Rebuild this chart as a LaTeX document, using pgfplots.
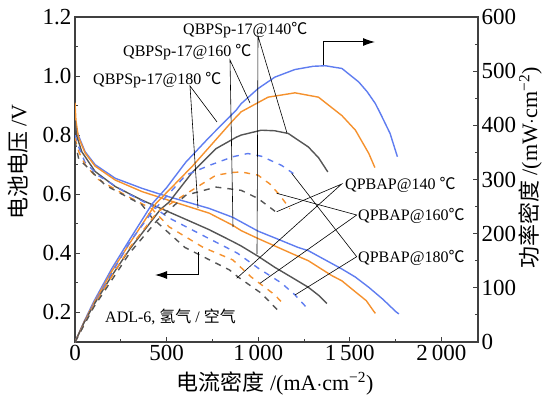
\documentclass[border=0pt]{standalone}
\usepackage{fontspec}
\setmainfont{Liberation Serif}
\newfontfamily\cjkfont{Noto Sans CJK SC}
\newfontfamily\tickfont{Liberation Serif}
\newcommand{\zh}[1]{{\cjkfont #1}}
\usepackage{pgfplots}
\pgfplotsset{compat=1.18}
\usetikzlibrary{arrows.meta}
\definecolor{cblue}{RGB}{95,125,240}
\definecolor{corange}{RGB}{245,145,45}
\definecolor{cgray}{RGB}{85,85,85}
\newcommand{\dc}{\zh{℃}}
\begin{document}
\begin{tikzpicture}[x=1pt,y=1pt]
\path[use as bounding box] (-75,-54) rectangle (473,342);
\pgfplotsset{
  every axis/.append style={
    scale only axis, width=403pt, height=325pt, at={(0,0)}, anchor=south west,
    xmin=0, xmax=2200,
    tick align=inside,
    major tick length=5pt, minor tick length=3pt,
    axis line style={line width=1.1pt, black!75},
    every tick/.style={black!75, line width=0.9pt},
    tick label style={font=\tickfont\fontsize{23}{25}\selectfont},
    /pgf/number format/assume math mode=true,
  },
  sol/.style={line width=1.4pt, no marks},
  das/.style={line width=1.4pt, no marks, dash pattern=on 6pt off 6pt},
}
\begin{axis}[
  ymin=0.1, ymax=1.2,
  xtick={0,500,1000,1500,2000},
  xticklabels={\tickfont 0,\tickfont 500,\tickfont 1\,000,\tickfont 1\,500,\tickfont 2\,000},
  minor xtick={250,750,1250,1750},
  ytick={0.2,0.4,0.6,0.8,1.0,1.2},
  yticklabels={\tickfont 0.2,\tickfont 0.4,\tickfont 0.6,\tickfont 0.8,\tickfont 1.0,\tickfont 1.2},
  minor ytick={0.1,0.3,0.5,0.7,0.9,1.1},
  xtick pos=bottom, ytick pos=left,
]
% QBPSp-17@180 (blue solid) voltage
\addplot[sol, cblue] coordinates {(0,0.86)(8,0.82)(18,0.80)(55,0.744)(110,0.70)(220,0.654)(366,0.62)(476,0.598)(605,0.575)(733,0.552)(861,0.522)(1000,0.475)(1100,0.45)(1218,0.42)(1274,0.409)(1401,0.366)(1457,0.347)(1530,0.32)(1604,0.285)(1680,0.245)(1751,0.203)(1768,0.195)};
% QBPSp-17@160 (orange solid)
\addplot[sol, corange] coordinates {(0,0.91)(5,0.85)(18,0.795)(55,0.74)(110,0.695)(220,0.648)(366,0.609)(550,0.572)(733,0.536)(861,0.495)(907,0.477)(1000,0.45)(1218,0.39)(1274,0.375)(1401,0.325)(1457,0.307)(1530,0.27)(1590,0.24)(1632,0.203)(1640,0.197)};
% QBPSp-17@140 (gray solid)
\addplot[sol, cgray] coordinates {(0,0.85)(8,0.80)(37,0.744)(110,0.677)(220,0.626)(366,0.58)(476,0.55)(605,0.515)(733,0.48)(861,0.44)(907,0.425)(1000,0.39)(1090,0.353)(1180,0.32)(1274,0.285)(1330,0.258)(1375,0.23)};
% QPBAP@180 (blue dashed)
\addplot[das, cblue] coordinates {(0,0.80)(20,0.76)(55,0.708)(128,0.663)(275,0.607)(421,0.56)(513,0.52)(700,0.46)(861,0.409)(888,0.40)(1000,0.35)(1126,0.30)(1200,0.26)(1274,0.21)};
% QPBAP@160 (orange dashed)
\addplot[das, corange] coordinates {(0,0.79)(20,0.745)(55,0.70)(128,0.65)(275,0.597)(421,0.55)(513,0.49)(700,0.42)(861,0.378)(962,0.32)(1090,0.26)(1146,0.223)};
% QPBAP@140 (gray dashed)
\addplot[das, cgray] coordinates {(0,0.78)(20,0.72)(73,0.688)(165,0.631)(366,0.564)(421,0.52)(600,0.42)(843,0.344)(888,0.321)(1017,0.265)(1109,0.206)};
\end{axis}
\begin{axis}[
  ymin=0, ymax=600,
  axis y line*=right, axis x line=none,
  ytick={0,100,200,300,400,500,600},
  yticklabels={\tickfont 0,\tickfont 100,\tickfont 200,\tickfont 300,\tickfont 400,\tickfont 500,\tickfont 600},
  minor ytick={50,150,...,550},
]
\addplot[sol, cblue] coordinates {(0,0)(50,38)(100,73)(200,135)(300,190)(421,255)(500,285)(605,332)(733,378)(880,428)(907,440)(1000,468)(1091,489)(1200,503)(1300,509)(1366,510)(1457,505)(1549,480)(1595,462)(1640,440)(1677,415)(1720,385)(1760,342)};
\addplot[sol, corange] coordinates {(0,0)(50,37)(100,70)(200,130)(300,183)(440,255)(642,325)(862,409)(907,425)(1054,452)(1201,460)(1329,452)(1457,418)(1531,391)(1604,348)(1637,322)};
\addplot[sol, cgray] coordinates {(0,0)(50,36)(100,67)(200,122)(300,172)(467,245)(513,258)(642,314)(770,357)(880,378)(907,382)(1017,391)(1090,390)(1164,385)(1274,360)(1330,340)(1380,314)};
\addplot[das, cblue] coordinates {(0,0)(100,68)(300,185)(421,240)(605,308)(733,326)(862,342)(943,348)(1017,343)(1128,326)(1192,311)};
\addplot[das, corange] coordinates {(0,0)(100,66)(300,175)(450,240)(623,277)(770,308)(862,313)(907,314)(999,308)(1063,292)(1118,271)(1173,246)};
\addplot[das, cgray] coordinates {(0,0)(100,63)(300,165)(450,225)(605,271)(770,286)(907,280)(999,265)(1109,237)};
\end{axis}
% labels
\node[rotate=90, font=\fontsize{22}{24}\selectfont] at (-57,180) {\zh{电池电压} /V};
\node[rotate=90, font=\fontsize{22}{24}\selectfont] at (455,174) {\zh{功率密度} /(mW$\cdot$cm\textsuperscript{−2})};
\node[font=\fontsize{22}{24}\selectfont] at (200,-41) {\zh{电流密度} /(mA$\cdot$cm\textsuperscript{−2})};
% annotations
\begin{scope}[font=\fontsize{16}{18}\selectfont]
\node[anchor=west, inner sep=0pt] at (108,312) {QBPSp-17@140\dc};
\node[anchor=west, inner sep=0pt] at (48,290) {QBPSp-17@160 \dc};
\node[anchor=west, inner sep=0pt] at (18,262) {QBPSp-17@180 \dc};
\node[anchor=west, inner sep=0pt] at (270,157) {QPBAP@140 \dc};
\node[anchor=west, inner sep=0pt] at (283,126) {QPBAP@160\dc};
\node[anchor=west, inner sep=0pt] at (283,84) {QPBAP@180\dc};
\node[anchor=west, inner sep=0pt] at (30,25) {ADL-6, \zh{氢气} / \zh{空气}};
\end{scope}
\begin{scope}[line width=0.6pt]
\draw (142,220) -- (115,256) -- (123,134);
\draw (175,239) -- (155,282) -- (158,115);
\draw (212,209) -- (183,306) -- (182,88);
\draw (201.7,130.3) -- (266.7,158) -- (161.7,63.7);
\draw (201.7,148.7) -- (281.7,127) -- (185,58.7);
\draw (216.7,168.7) -- (281.7,85.3) -- (220,47);
\end{scope}
\draw[line width=1pt, -{Latex[length=12pt,width=8pt]}] (248,277) -- (248,300) -- (300,300);
\draw[line width=1pt, -{Latex[length=12pt,width=8pt]}] (123,90) -- (123,67) -- (80,67);
\end{tikzpicture}
\end{document}
